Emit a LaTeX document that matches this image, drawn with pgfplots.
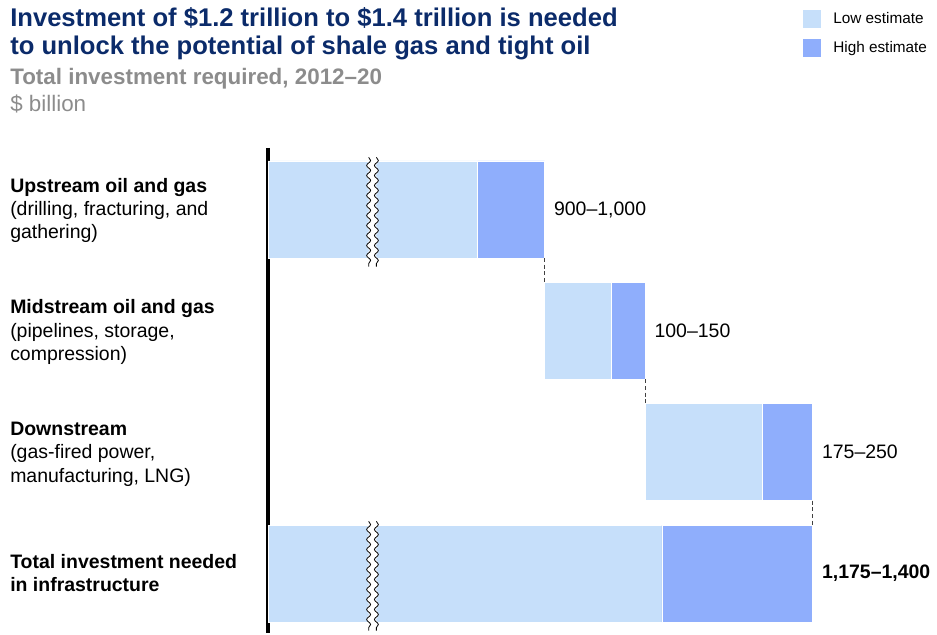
\documentclass[border=0pt]{standalone}
\usepackage{fontspec}
\setmainfont{Liberation Sans}
\usepackage{pgfplots}
\pgfplotsset{compat=1.18}
\usepackage{pgfplotstable}
\usetikzlibrary{decorations.pathmorphing}
\definecolor{lowc}{HTML}{C6DFFA}
\definecolor{highc}{HTML}{8FAEFC}
\definecolor{navy}{HTML}{0B2B6A}
\definecolor{subgray}{HTML}{8C8C8C}
% base = where the bar starts, low = low estimate, high = extra for high estimate ($ billion)
\pgfplotstableread{
y base low high
0 0    900  100
1 1000 100  50
2 1150 175  75
3 0    1175 225
}\data
% span hidden by the axis break ($ billion)
\def\brk{587}
\tikzset{snk/.style={decorate, decoration={snake, segment length=7.5pt, amplitude=1.5pt}}}
\newcommand\lbl{\fontsize{14.6pt}{17pt}\selectfont}
\begin{document}
\begin{tikzpicture}
\path (0,0) rectangle (702.75pt,-474.75pt);
\begin{axis}[at={(201pt,-474.75pt)}, anchor=south west,
  scale only axis, width=408.5pt, height=363.75pt,
  xmin=0, xmax=813, ymin=-0.507, ymax=3.49, y dir=reverse,
  set layers,
  axis x line=none, axis y line=left,
  y axis line style={-, line width=2.3pt, black},
  ytick=\empty, xtick=\empty, clip=false]
\addplot[xbar stacked, bar width=0.8, draw=none, fill=none] table[y=y, x expr={\thisrow{base}>0 ? \thisrow{base}-\brk : 0}]{\data};
\addplot[xbar stacked, bar width=0.8, draw=white, line width=0.6pt, fill=lowc] table[y=y, x expr={\thisrow{base}>0 ? \thisrow{low} : \thisrow{low}-\brk}]{\data};
\addplot[xbar stacked, bar width=0.8, draw=white, line width=0.6pt, fill=highc] table[y=y, x=high]{\data};
\begin{pgfonlayer}{axis foreground}
% connectors
\draw[densely dashed, black!75, line width=0.5pt] (axis cs:413,0.4) -- (axis cs:413,0.6);
\draw[densely dashed, black!75, line width=0.5pt] (axis cs:563,1.4) -- (axis cs:563,1.6);
\draw[densely dashed, black!75, line width=0.5pt] (axis cs:813,2.4) -- (axis cs:813,2.6);
% axis breaks
\draw[white, line width=5.5pt, snk] (axis cs:156,-0.43) -- (axis cs:156,0.47);
\draw[black, line width=0.6pt, snk, xshift=-2.9pt] (axis cs:156,-0.43) -- (axis cs:156,0.47);
\draw[black, line width=0.6pt, snk, xshift=2.9pt] (axis cs:156,-0.43) -- (axis cs:156,0.47);
\draw[white, line width=5.5pt, snk] (axis cs:156,2.57) -- (axis cs:156,3.47);
\draw[black, line width=0.6pt, snk, xshift=-2.9pt] (axis cs:156,2.57) -- (axis cs:156,3.47);
\draw[black, line width=0.6pt, snk, xshift=2.9pt] (axis cs:156,2.57) -- (axis cs:156,3.47);
% value labels
\node[anchor=west, font=\lbl, xshift=3.5pt] at (axis cs:413,0) {900–1,000};
\node[anchor=west, font=\lbl, xshift=3.5pt] at (axis cs:563,1) {100–150};
\node[anchor=west, font=\lbl, xshift=3.5pt] at (axis cs:813,2) {175–250};
\node[anchor=west, font=\lbl\bfseries, xshift=3.5pt] at (axis cs:813,3) {1,175–1,400};
\end{pgfonlayer}
\end{axis}
\begin{scope}[x=0.75pt, y=-0.75pt]
\node[anchor=base west, inner sep=0, text=navy, font=\fontsize{19.2pt}{22pt}\selectfont\bfseries] at (10,27) {Investment of \$1.2 trillion to \$1.4 trillion is needed};
\node[anchor=base west, inner sep=0, text=navy, font=\fontsize{19.2pt}{22pt}\selectfont\bfseries] at (10,54.5) {to unlock the potential of shale gas and tight oil};
\node[anchor=base west, inner sep=0, text=subgray, font=\fontsize{16.8pt}{19pt}\selectfont\bfseries] at (10,85) {Total investment required, 2012–20};
\node[anchor=base west, inner sep=0, text=subgray, font=\fontsize{16.8pt}{19pt}\selectfont] at (10,111.5) {\$ billion};
% legend
\fill[lowc] (803,10) rectangle (821,28);
\fill[highc] (803,39) rectangle (821,57);
\node[anchor=base west, inner sep=0, font=\fontsize{11.5pt}{13pt}\selectfont] at (833,24) {Low estimate};
\node[anchor=base west, inner sep=0, font=\fontsize{11.5pt}{13pt}\selectfont] at (833,53) {High estimate};
% category labels
\begin{scope}[every node/.style={anchor=base west, inner sep=0, font=\lbl}]
\node[font=\lbl\bfseries] at (10,192) {Upstream oil and gas};
\node at (10,215) {(drilling, fracturing, and};
\node at (10,238.5) {gathering)};
\node[font=\lbl\bfseries] at (10,313) {Midstream oil and gas};
\node at (10,337) {(pipelines, storage,};
\node at (10,360) {compression)};
\node[font=\lbl\bfseries] at (10,435) {Downstream};
\node at (10,458.5) {(gas-fired power,};
\node at (10,482) {manufacturing, LNG)};
\node[font=\lbl\bfseries] at (10,568) {Total investment needed};
\node[font=\lbl\bfseries] at (10,591.5) {in infrastructure};
\end{scope}
\end{scope}
\end{tikzpicture}
\end{document}
